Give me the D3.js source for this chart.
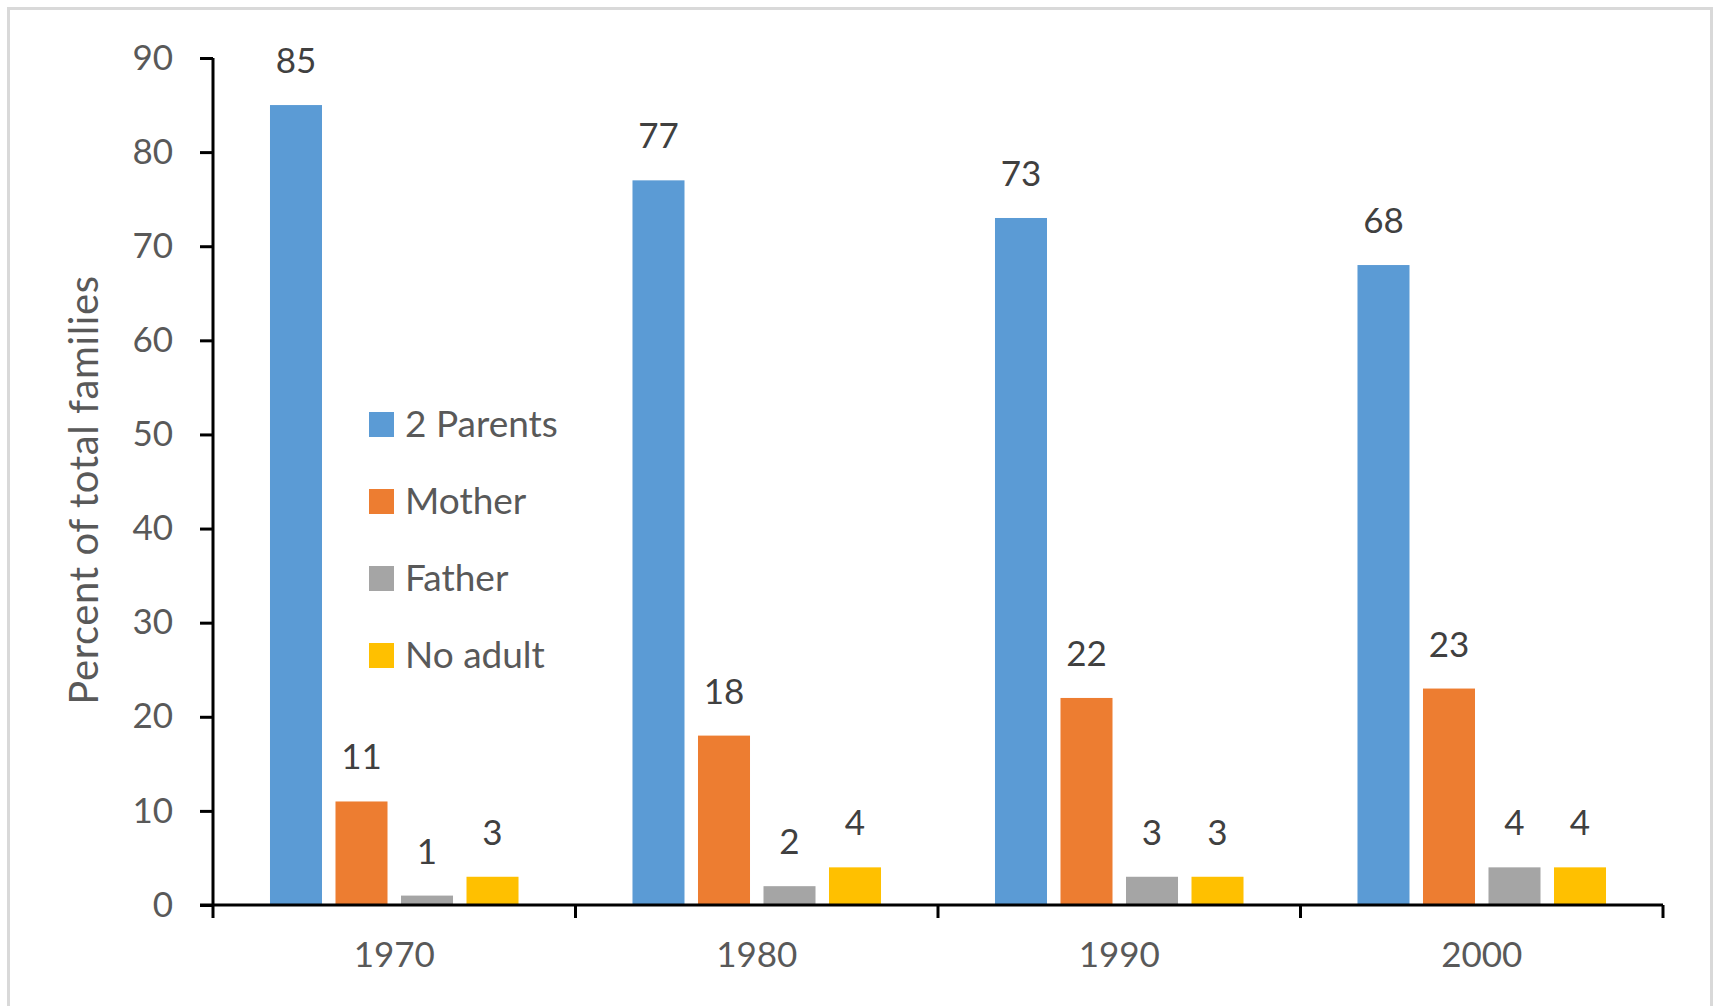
<!DOCTYPE html>
<html>
<head>
<meta charset="utf-8">
<script src="https://cdnjs.cloudflare.com/ajax/libs/d3/7.8.5/d3.min.js"></script>
<style>
  body { margin: 0; background: #fff; }
  svg { display: block; }
  text { font-family: Lato, "Open Sans", sans-serif; }
</style>
</head>
<body>
<div id="chart"></div>
<script>
document.addEventListener("DOMContentLoaded", function(){

  // data
  var years = ["1970", "1980", "1990", "2000"];
  var series = ["2 Parents", "Mother", "Father", "No adult"];
  var twoParents = [85, 77, 73, 68];
  var mother = [11, 18, 22, 23];
  var father = [1, 2, 3, 4];
  var noAdult = [3, 4, 3, 4];
  var yTicks = [0, 10, 20, 30, 40, 50, 60, 70, 80, 90];

  var values = [twoParents, mother, father, noAdult];

  var width = 1713,
  height = 1006;
  var left = 213, right = 1663, top = 58, bottom = 905;

  var color = d3.scaleOrdinal()
    .domain(series)
    .range(["#5B9BD5", "#ED7D31", "#A5A5A5", "#FFC000"]);

  var x0 = d3.scaleBand()
    .domain(years)
    .range([left, right])
    .padding(0);

  var x1 = d3.scaleBand()
    .domain(series)
    .range([0, x0.bandwidth()])
    .paddingInner(0.206)
    .paddingOuter(0.87);

  var y = d3.scaleLinear()
    .domain([0, 90])
    .range([bottom, top]);

  var svg = d3.select("#chart")
    .append("svg")
    .attr("width", width)
    .attr("height", height);

  // chart frame
  svg.append("rect")
    .attr("x", 8.5)
    .attr("y", 8.5)
    .attr("width", 1703)
    .attr("height", 1100)
    .attr("fill", "#fff")
    .attr("stroke", "#d9d9d9")
    .attr("stroke-width", 3);

  // bars
  var groups = svg.selectAll("g.year")
    .data(years)
    .enter().append("g")
    .attr("class", "year")
    .attr("transform", function(d) { return "translate(" + x0(d) + ",0)"; });

  var cells = groups.selectAll("g.bar")
    .data(function(d, i) {
      return series.map(function(s, j) { return {year: d, key: s, value: values[j][i]}; });
    })
    .enter().append("g")
    .attr("class", "bar");

  cells.append("rect")
    .attr("x", function(d) { return x1(d.key); })
    .attr("y", function(d) { return y(d.value); })
    .attr("width", x1.bandwidth())
    .attr("height", function(d) { return y(0) - y(d.value); })
    .attr("fill", function(d) { return color(d.key); });

  cells.append("text")
    .attr("x", function(d) { return x1(d.key) + x1.bandwidth() / 2; })
    .attr("y", function(d) { return y(d.value) - 32; })
    .attr("text-anchor", "middle")
    .style("font-size", "35px")
    .style("fill", "#404040")
    .text(function(d) { return d.value; });

  // y axis
  var yAxis = svg.append("g")
    .attr("transform", "translate(" + left + ",0)")
    .call(d3.axisLeft(y).tickValues(yTicks).tickSize(13).tickPadding(27).tickSizeOuter(0));
  yAxis.selectAll("line").attr("stroke", "#000").attr("stroke-width", 3);
  yAxis.select(".domain").attr("stroke", "#000").attr("stroke-width", 3)
    .attr("d", "M0," + top + "V" + bottom);
  yAxis.selectAll("text").style("font-size", "35px").style("fill", "#595959")
    .style("font-family", "Lato, sans-serif");

  // x axis
  var xAxis = svg.append("g")
    .attr("transform", "translate(0," + bottom + ")")
    .call(d3.axisBottom(x0).tickSize(0).tickPadding(37));
  xAxis.select(".domain").attr("stroke", "#000").attr("stroke-width", 3)
    .attr("d", "M" + (left - 13) + ",0H" + right);
  xAxis.selectAll("text").style("font-size", "35px").style("fill", "#595959")
    .style("font-family", "Lato, sans-serif");

  var bounds = years.map(function(d) { return x0(d); }).concat([x0(years[years.length - 1]) + x0.bandwidth()]);
  xAxis.selectAll("line.bound")
    .data(bounds)
    .enter().append("line")
    .attr("class", "bound")
    .attr("x1", function(d) { return d; })
    .attr("x2", function(d) { return d; })
    .attr("y1", 0)
    .attr("y2", 13)
    .attr("stroke", "#000")
    .attr("stroke-width", 3);

  // y title
  svg.append("text")
    .attr("transform", "translate(98,490) rotate(-90)")
    .attr("text-anchor", "middle")
    .style("font-size", "40px")
    .style("letter-spacing", "0.6px")
    .style("fill", "#595959")
    .text("Percent of total families");

  // legend
  var legend = svg.selectAll("g.legend")
    .data(series)
    .enter().append("g")
    .attr("class", "legend")
    .attr("transform", function(d, i) { return "translate(369," + (412 + i * 77) + ")"; });

  legend.append("rect")
    .attr("width", 25)
    .attr("height", 25)
    .attr("fill", function(d) { return color(d); });

  legend.append("text")
    .attr("x", 36)
    .attr("y", 25)
    .style("font-size", "37px")
    .style("fill", "#595959")
    .text(function(d) { return d; });

});
</script>
</body>
</html>
